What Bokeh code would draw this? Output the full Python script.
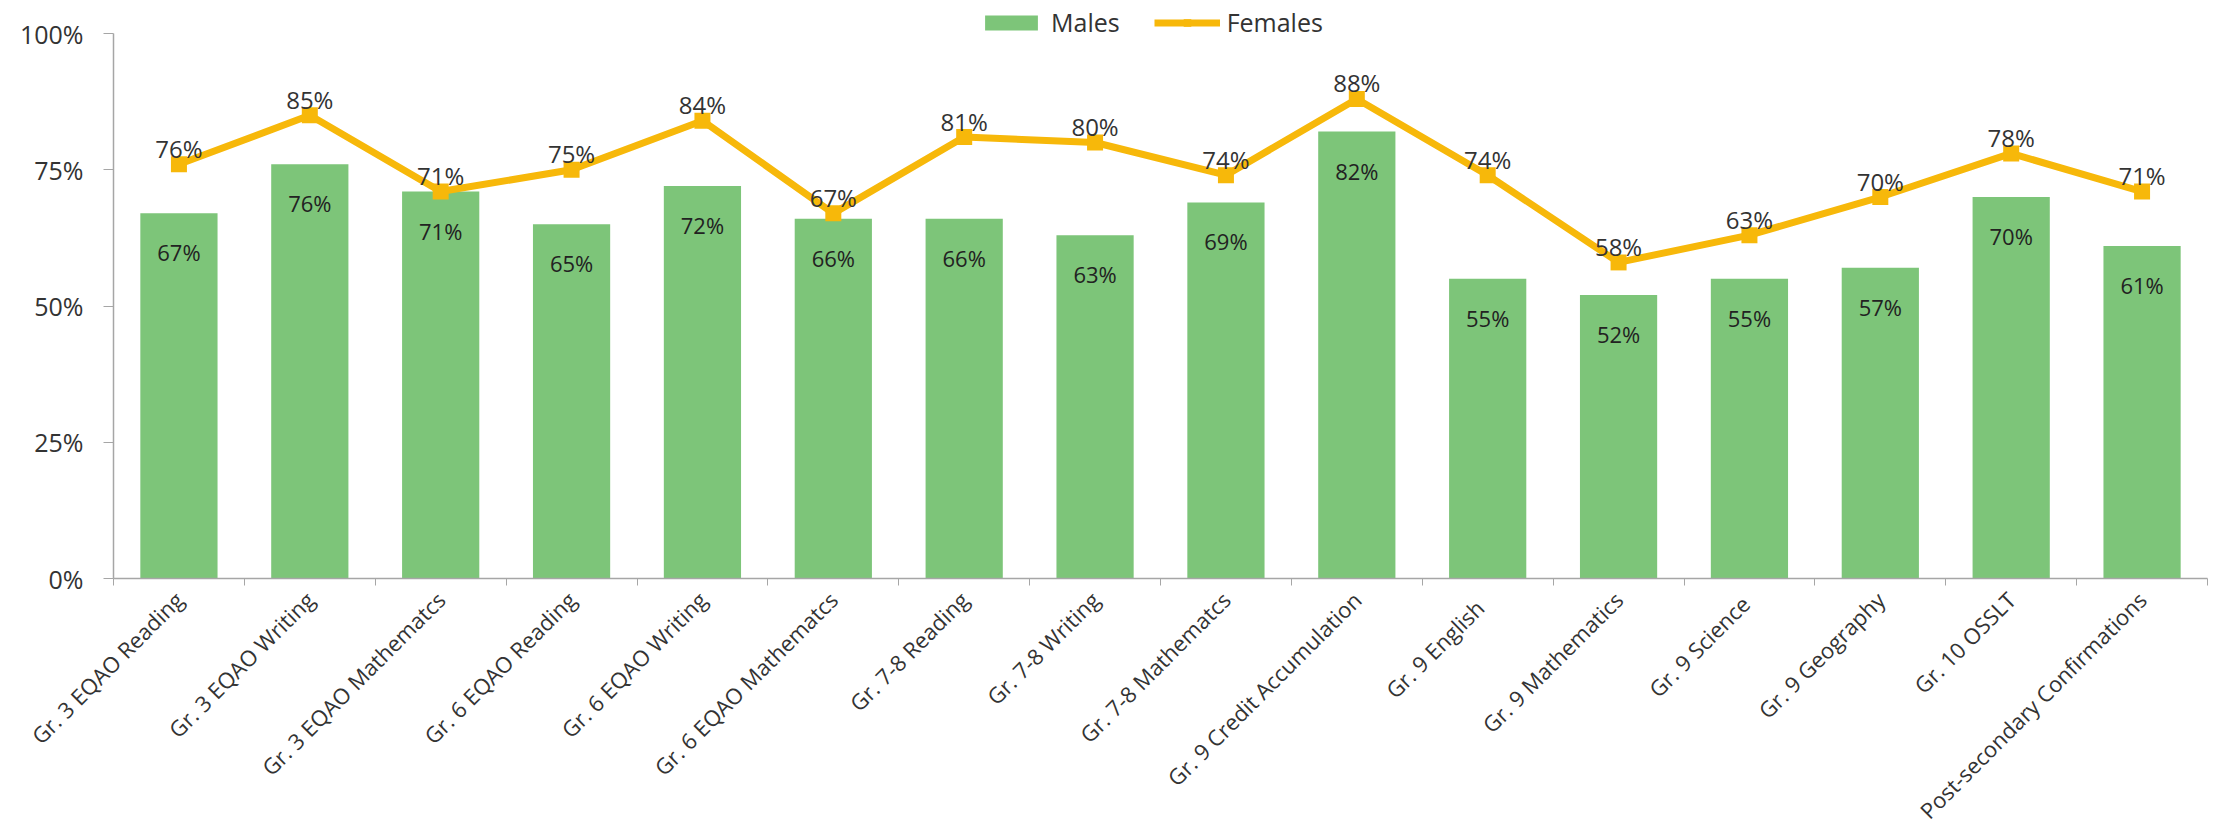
import math
from bokeh.plotting import figure
from bokeh.models import Range1d, FixedTicker, PrintfTickFormatter, Legend, LegendItem
from bokeh.core.properties import value
from bokeh.embed import file_html
from bokeh.resources import INLINE

categories = [
    "Gr. 3 EQAO Reading", "Gr. 3 EQAO Writing", "Gr. 3 EQAO Mathematcs",
    "Gr. 6 EQAO Reading", "Gr. 6 EQAO Writing", "Gr. 6 EQAO Mathematcs",
    "Gr. 7-8 Reading", "Gr. 7-8 Writing", "Gr. 7-8 Mathematcs",
    "Gr. 9 Credit Accumulation", "Gr. 9   English", "Gr. 9 Mathematics",
    "Gr. 9  Science", "Gr. 9 Geography", "Gr. 10 OSSLT",
    "Post-secondary Confirmations",
]
males = [67, 76, 71, 65, 72, 66, 66, 63, 69, 82, 55, 52, 55, 57, 70, 61]
females = [76, 85, 71, 75, 84, 67, 81, 80, 74, 88, 74, 58, 63, 70, 78, 71]
y_ticks = [0, 25, 50, 75, 100]

GREEN = "#7DC579"
GOLD = "#F7B80A"
TEXT = "#333333"
AXIS = "#A6A6A6"
FONT = "Open Sans"

n = len(categories)
xs = list(range(n))

# frame spans the full top of the canvas; the axis stops at 100%
p = figure(width=2218, height=838, output_backend="svg", toolbar_location=None,
           x_range=Range1d(-0.5, n - 0.5), y_range=Range1d(0, 106.06),
           min_border_left=113, min_border_right=11, min_border_top=0,
           min_border_bottom=258)
p.outline_line_color = None
p.xgrid.grid_line_color = None
p.ygrid.grid_line_color = None
p.background_fill_color = "white"

bars = p.vbar(x=xs, top=males, width=0.59, fill_color=GREEN, line_color=None)
line = p.line(xs, females, line_width=7, line_color=GOLD)
marks = p.scatter(xs, females, marker="square", size=16, fill_color=GOLD, line_color=None)

p.text(x=xs, y=females, text=[f"{v}%" for v in females], text_align="center",
       text_baseline="middle", y_offset=-16, text_font=value(FONT),
       text_font_size="24px", text_color=TEXT)
p.text(x=xs, y=males, text=[f"{v}%" for v in males], text_align="center",
       text_baseline="middle", y_offset=39, text_font=value(FONT),
       text_font_size="22px", text_color="#222222")

# y axis
ya = p.yaxis[0]
ya.bounds = (0, 100)
ya.ticker = FixedTicker(ticks=y_ticks, minor_ticks=[])
ya.formatter = PrintfTickFormatter(format="%d%%")
ya.major_label_text_font = FONT
ya.major_label_text_font_size = "25px"
ya.major_label_text_color = TEXT
ya.axis_line_color = AXIS
ya.axis_line_width = 1.5
ya.major_tick_line_color = AXIS
ya.major_tick_in = 0
ya.major_tick_out = 10
ya.major_label_standoff = 20
ya.minor_tick_line_color = None

# x axis
xa = p.xaxis[0]
xa.ticker = FixedTicker(ticks=xs, minor_ticks=[i - 0.5 for i in range(n + 1)])
xa.major_label_overrides = {i: c for i, c in enumerate(categories)}
xa.major_label_orientation = math.pi / 4
xa.major_label_text_font = FONT
xa.major_label_text_font_size = "22px"
xa.major_label_text_color = TEXT
xa.major_label_standoff = 10
xa.axis_line_color = AXIS
xa.axis_line_width = 1.5
xa.major_tick_line_color = None
xa.minor_tick_line_color = AXIS
xa.minor_tick_in = 0
xa.minor_tick_out = 7

legend = Legend(items=[LegendItem(label="Males", renderers=[bars]),
                       LegendItem(label="Females", renderers=[line, marks])],
                orientation="horizontal", location=(865, 539),
                glyph_width=66, glyph_height=19, label_standoff=7, spacing=34,
                padding=0, margin=0, border_line_color=None,
                background_fill_alpha=0, label_text_font=FONT,
                label_text_font_size="25px", label_text_color=TEXT)
p.add_layout(legend, "center")

open("out.html", "w").write(file_html(p, INLINE))
